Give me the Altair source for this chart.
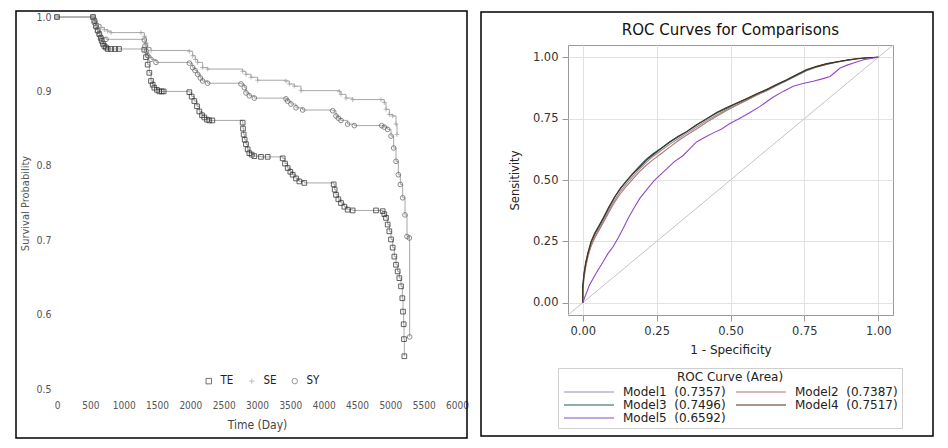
import altair as alt
import pandas as pd

# ---------------- Kaplan-Meier survival curves ----------------
SERIES = ["TE", "SE", "SY"]

te_days = [0, 540, 560, 585, 610, 635, 655, 670, 690, 710, 735, 760, 810, 870, 930,
           1310, 1335, 1360, 1385, 1410, 1435, 1460, 1500, 1535, 1570, 1600,
           1985, 2020, 2060, 2100, 2135, 2175, 2210, 2250, 2285, 2330,
           2785, 2790, 2800, 2815, 2835, 2860, 2885, 2920, 2960, 3060, 3160,
           3385, 3420, 3460, 3500, 3535, 3585, 3635, 3710,
           4150, 4165, 4185, 4220, 4260, 4310, 4360, 4435, 4785,
           4885, 4910, 4935, 4960, 4985, 5010, 5035, 5060, 5085, 5110, 5135, 5160,
           5180, 5190, 5200, 5205, 5210]
te_surv = [1.0, 1.0, 0.995, 0.988, 0.982, 0.977, 0.972, 0.968, 0.964, 0.961, 0.959, 0.957, 0.957, 0.957, 0.957,
           0.956, 0.946, 0.936, 0.925, 0.914, 0.909, 0.905, 0.902, 0.900, 0.900, 0.900,
           0.899, 0.893, 0.887, 0.880, 0.873, 0.868, 0.865, 0.862, 0.861, 0.861,
           0.858, 0.850, 0.842, 0.835, 0.829, 0.822, 0.817, 0.815, 0.813, 0.812, 0.812,
           0.810, 0.803, 0.797, 0.792, 0.788, 0.783, 0.779, 0.777,
           0.775, 0.768, 0.761, 0.755, 0.750, 0.745, 0.741, 0.740, 0.740,
           0.739, 0.735, 0.730, 0.721, 0.712, 0.701, 0.690, 0.678, 0.667, 0.658, 0.649, 0.638,
           0.622, 0.604, 0.587, 0.567, 0.544]

se_days = [0, 540, 575, 610, 660, 710, 760, 810, 1260, 1310, 1335, 1360, 1410,
           1985, 2035, 2075, 2110, 2185, 2260, 2785, 2835, 2910, 3010,
           3435, 3485, 3560, 3660, 4235, 4260, 4335, 4435,
           4860, 4910, 4935, 4985, 5035, 5085, 5100]
se_surv = [1.0, 1.0, 0.995, 0.990, 0.986, 0.983, 0.981, 0.979, 0.979, 0.974, 0.965, 0.959, 0.955,
           0.954, 0.948, 0.943, 0.939, 0.932, 0.930, 0.927, 0.923, 0.919, 0.915,
           0.914, 0.910, 0.907, 0.901, 0.900, 0.896, 0.891, 0.889,
           0.889, 0.885, 0.876, 0.869, 0.867, 0.856, 0.842]

sy_days = [0, 540, 560, 585, 610, 635, 660, 735, 1310, 1320, 1340, 1360, 1410, 1485,
           1985, 2035, 2070, 2110, 2150, 2185, 2260, 2760, 2810, 2835, 2885, 2960,
           3435, 3460, 3510, 3585, 3685, 4135, 4185, 4220, 4260, 4360, 4460,
           4870, 4910, 4960, 5010, 5050, 5085, 5120, 5150, 5185, 5220, 5250, 5285, 5290]
sy_surv = [1.0, 1.0, 0.992, 0.986, 0.981, 0.976, 0.972, 0.970, 0.969, 0.961, 0.954, 0.948, 0.943, 0.939,
           0.938, 0.932, 0.928, 0.923, 0.918, 0.914, 0.911, 0.910, 0.905, 0.898, 0.894, 0.891,
           0.890, 0.887, 0.883, 0.878, 0.875, 0.874, 0.867, 0.864, 0.861, 0.856, 0.854,
           0.854, 0.852, 0.849, 0.840, 0.824, 0.806, 0.788, 0.775, 0.757, 0.734, 0.705, 0.703, 0.570]

km_x_ticks = [0, 500, 1000, 1500, 2000, 2500, 3000, 3500, 4000, 4500, 5000, 5500, 6000]
km_y_ticks = [0.5, 0.6, 0.7, 0.8, 0.9, 1.0]

# ---------------- ROC curves ----------------
NB = "\u00a0\u00a0"
roc_models = ["Model1" + NB + "(0.7357)", "Model2" + NB + "(0.7387)", "Model3" + NB + "(0.7496)",
              "Model4" + NB + "(0.7517)", "Model5" + NB + "(0.6592)"]
roc_colors = ["#8a90b4", "#b8776a", "#1b5e5a", "#4a3318", "#9446c8"]

roc_fpr = [0, 0, 0.004, 0.010, 0.018, 0.028, 0.041, 0.055, 0.069, 0.088, 0.108, 0.128,
           0.148, 0.170, 0.193, 0.215, 0.238, 0.265, 0.295, 0.323, 0.351, 0.385, 0.419,
           0.453, 0.487, 0.521, 0.555, 0.589, 0.623, 0.657, 0.690, 0.724, 0.758, 0.792,
           0.826, 0.860, 0.894, 0.930, 0.965, 1.0]
m1_sens = [0, 0.05, 0.10, 0.15, 0.195, 0.235, 0.27, 0.30, 0.33, 0.375, 0.418, 0.455,
           0.485, 0.515, 0.545, 0.572, 0.596, 0.62, 0.646, 0.668, 0.69, 0.716, 0.742,
           0.765, 0.787, 0.806, 0.826, 0.846, 0.864, 0.885, 0.904, 0.925, 0.945, 0.96,
           0.971, 0.98, 0.987, 0.994, 0.998, 1.0]
m2_sens = [0, 0.05, 0.10, 0.145, 0.19, 0.23, 0.265, 0.295, 0.325, 0.368, 0.41, 0.445,
           0.475, 0.505, 0.535, 0.56, 0.583, 0.607, 0.635, 0.66, 0.682, 0.708, 0.735,
           0.76, 0.783, 0.804, 0.825, 0.846, 0.866, 0.887, 0.906, 0.927, 0.947, 0.961,
           0.972, 0.981, 0.988, 0.994, 0.998, 1.0]
m3_sens = [0, 0.07, 0.12, 0.165, 0.205, 0.245, 0.28, 0.31, 0.34, 0.385, 0.43, 0.468,
           0.497, 0.528, 0.558, 0.585, 0.607, 0.63, 0.656, 0.678, 0.697, 0.725, 0.748,
           0.773, 0.792, 0.812, 0.83, 0.85, 0.868, 0.888, 0.906, 0.928, 0.948, 0.962,
           0.973, 0.981, 0.988, 0.994, 0.998, 1.0]
m4_sens = [0, 0.06, 0.115, 0.16, 0.205, 0.25, 0.285, 0.315, 0.345, 0.39, 0.432, 0.466,
           0.495, 0.525, 0.552, 0.58, 0.603, 0.628, 0.655, 0.676, 0.696, 0.724, 0.75,
           0.775, 0.795, 0.814, 0.832, 0.851, 0.87, 0.89, 0.908, 0.93, 0.95, 0.963,
           0.974, 0.982, 0.989, 0.995, 0.998, 1.0]
m5_fpr = [0, 0.006, 0.012, 0.022, 0.035, 0.050, 0.069, 0.085, 0.103, 0.120, 0.137, 0.154,
          0.173, 0.193, 0.216, 0.240, 0.261, 0.284, 0.310, 0.340, 0.360, 0.385, 0.415,
          0.442, 0.470, 0.498, 0.532, 0.566, 0.600, 0.645, 0.680, 0.712, 0.745, 0.780,
          0.810, 0.837, 0.855, 0.871, 0.895, 0.916, 0.950, 1.0]
m5_sens = [0, 0.02, 0.038, 0.07, 0.099, 0.13, 0.167, 0.20, 0.229, 0.265, 0.303, 0.345,
           0.385, 0.425, 0.46, 0.495, 0.52, 0.545, 0.575, 0.60, 0.625, 0.655, 0.675,
           0.692, 0.708, 0.73, 0.752, 0.775, 0.80, 0.838, 0.862, 0.882, 0.893, 0.902,
           0.912, 0.922, 0.94, 0.956, 0.968, 0.977, 0.99, 1.0]
diag_vals = [-0.05, 1.05]
roc_ticks = [0, 0.25, 0.5, 0.75, 1.0]

# ---------------- tables ----------------
rows = []
for name, ds, ss in zip(SERIES, [te_days, se_days, sy_days], [te_surv, se_surv, sy_surv]):
    for i, (d, s) in enumerate(zip(ds, ss)):
        rows.append({"series": name, "day": d, "surv": s, "i": i})
km = pd.DataFrame(rows)

rrows = []
roc_x = [roc_fpr, roc_fpr, roc_fpr, roc_fpr, m5_fpr]
roc_y = [m1_sens, m2_sens, m3_sens, m4_sens, m5_sens]
for name, xs, ys in zip(roc_models, roc_x, roc_y):
    for i, (a, b) in enumerate(zip(xs, ys)):
        rrows.append({"model": name, "fpr": a, "sens": b, "i": i})
roc = pd.DataFrame(rrows)
diag = pd.DataFrame({"fpr": diag_vals, "sens": diag_vals})
one = pd.DataFrame({"k": [0]})

NARROW = "Liberation Sans Narrow, DejaVu Sans Condensed, Liberation Sans, sans-serif"
DJ = "DejaVu Sans"

# ---------------- left panel ----------------
LW, LH, LUP = 400, 344, 28
xl = alt.X("day:Q", scale=alt.Scale(domain=[0, 6000], nice=False, zero=False),
           axis=alt.Axis(values=km_x_ticks, format="d", title="Time (Day)", grid=False,
                         domain=False, ticks=False, labelFont=NARROW, labelFontSize=10,
                         labelColor="#555", labelPadding=11, labelOverlap=False,
                         labelFlush=False,
                         titleFont=NARROW, titleFontSize=12, titleFontWeight="normal",
                         titleColor="#444", titlePadding=9))
yl = alt.Y("surv:Q", scale=alt.Scale(domain=[0.5, 1.0], nice=False, zero=False, range=[LH, -LUP]),
           axis=alt.Axis(values=km_y_ticks, format=".1f", title="Survival Probability",
                         grid=False, domain=False, ticks=False, labelFont=NARROW,
                         labelFontSize=10.5, labelColor="#555", labelPadding=6,
                         labelOverlap=False, labelFlush=False, titleFont=NARROW, titleFontSize=11,
                         titleFontWeight="normal", titleColor="#555", titlePadding=5))

km_legend = alt.Legend(title=None, orient="none", legendX=146, legendY=330,
                       direction="horizontal", symbolSize=30, symbolStrokeWidth=0.9,
                       labelFont=NARROW, labelFontSize=11.5, labelColor="#222",
                       labelOffset=6, columnPadding=12, padding=0)

frame_l = alt.Chart(one).mark_rect(fill="transparent", stroke="#000", strokeWidth=1.5).encode(
    x=alt.value(-41), x2=alt.value(410), y=alt.value(-34), y2=alt.value(393))
km_lines = alt.Chart(km).mark_line(interpolate="step-after", color="#a8a8a8", strokeWidth=1).encode(
    x=xl, y=yl, detail="series:N", order="i:Q")
km_pts = alt.Chart(km).mark_point(filled=False, size=22, strokeWidth=1).encode(
    x=xl, y=yl,
    color=alt.Color("series:N", scale=alt.Scale(domain=SERIES, range=["#222222", "#9c9c9c", "#5a5a5a"]),
                    legend=km_legend),
    shape=alt.Shape("series:N", scale=alt.Scale(domain=SERIES, range=["square", "M-1,0H1M0,-1V1", "circle"]),
                    legend=km_legend))

left = alt.layer(frame_l, km_lines, km_pts).properties(
    width=LW, height=LH, view=alt.ViewBackground(stroke=None))

# ---------------- right panel ----------------
RW, RH = 325, 270
xr = alt.X("fpr:Q", scale=alt.Scale(domain=[-0.05, 1.05], nice=False, zero=False),
           axis=alt.Axis(values=roc_ticks, format=".2f", title="1 - Specificity", grid=True,
                         gridColor="#e2e2e2", domain=False, tickColor="#999", tickSize=6,
                         labelFont=DJ, labelFontSize=11.5, labelColor="#333", labelPadding=4,
                         titleFont=DJ, titleFontSize=12, titleFontWeight="normal",
                         titleColor="#222", titlePadding=8))
yr = alt.Y("sens:Q", scale=alt.Scale(domain=[-0.05, 1.05], nice=False, zero=False),
           axis=alt.Axis(values=roc_ticks, format=".2f", title="Sensitivity", grid=True,
                         gridColor="#e2e2e2", domain=False, tickColor="#999", tickSize=6,
                         labelFont=DJ, labelFontSize=11.5, labelColor="#333", labelPadding=4,
                         titleFont=DJ, titleFontSize=11.5, titleFontWeight="normal",
                         titleColor="#222", titlePadding=12))

roc_legend = alt.Legend(title="ROC Curve (Area)", orient="none", legendX=-10, legendY=323,
                        columns=2, direction="horizontal", symbolType="M-5,0H5",
                        symbolSize=100, symbolStrokeWidth=1.2, symbolOffset=21,
                        labelFont=DJ, labelFontSize=12, labelColor="#222", labelOffset=28,
                        columnPadding=7, rowPadding=1, padding=4, titleAnchor="middle",
                        titleFont=DJ, titleFontSize=12, titleFontWeight="normal",
                        titleColor="#222", titlePadding=2, strokeColor="#d0d0d0",
                        labelLimit=200)

frame_r = alt.Chart(one).mark_rect(fill="transparent", stroke="#000", strokeWidth=1.5).encode(
    x=alt.value(-87), x2=alt.value(365), y=alt.value(-33), y2=alt.value(391))
diag_line = alt.Chart(diag).mark_line(color="#c4c4c4", strokeWidth=1).encode(x=xr, y=yr)
roc_lines = alt.Chart(roc).mark_line(strokeWidth=1.1).encode(
    x=xr, y=yr,
    color=alt.Color("model:N", scale=alt.Scale(domain=roc_models, range=roc_colors), legend=roc_legend),
    order="i:Q")

right = alt.layer(frame_r, diag_line, roc_lines).properties(
    width=RW, height=RH, view=alt.ViewBackground(stroke="#9a9a9a"),
    title=alt.TitleParams("ROC Curves for Comparisons", font=DJ, fontSize=15,
                          fontWeight="normal", color="#111", offset=-27, anchor="middle"))

chart = alt.hconcat(left, right, spacing=10).resolve_scale(
    color="independent", shape="independent").resolve_legend(
    color="independent", shape="independent").properties(
    padding={"left": 7, "top": 2, "right": 0, "bottom": 0}, background="white")

chart.save("out.html", embed_options={"renderer": "svg", "actions": False})
